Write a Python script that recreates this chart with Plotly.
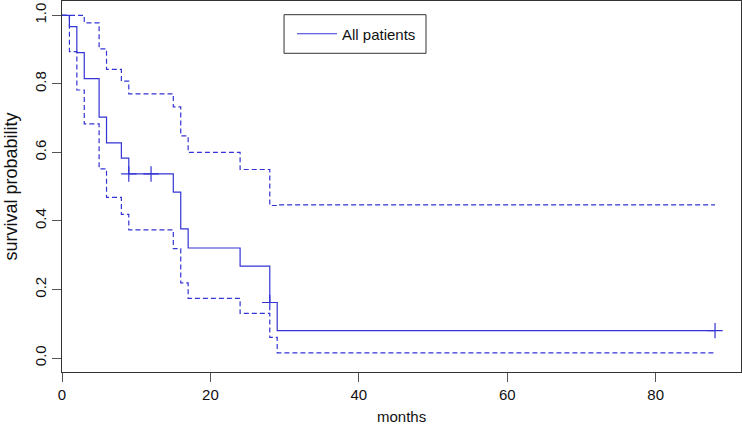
import plotly.graph_objects as go

# Kaplan-Meier estimate
step_times = [0, 1, 2, 3, 5, 6, 8, 9, 15, 16, 17, 24, 28, 29]
surv = [1.0, 0.967, 0.891, 0.815, 0.703, 0.628, 0.583, 0.537, 0.484, 0.377, 0.321, 0.268, 0.162, 0.080]
upper_ci = [1.0, 1.0, 1.0, 0.978, 0.902, 0.842, 0.808, 0.771, 0.733, 0.648, 0.600, 0.550, 0.445, 0.447]
lower_ci = [1.0, 0.894, 0.782, 0.683, 0.552, 0.469, 0.419, 0.374, 0.319, 0.219, 0.174, 0.130, 0.060, 0.015]
end_time = 88
censor_times = [9, 12, 28, 88]

x_ticks = [0, 20, 40, 60, 80]
y_ticks = [0.0, 0.2, 0.4, 0.6, 0.8, 1.0]
y_tick_labels = ["0.0", "0.2", "0.4", "0.6", "0.8", "1.0"]
x_title = "months"
y_title = "survival probability"

BLUE = "rgb(52,52,212)"
FONT = "Liberation Sans, Arial, sans-serif"


def surv_at(t):
    val = surv[0]
    for st, s in zip(step_times, surv):
        if st <= t:
            val = s
    return val


xs = step_times + [end_time]

fig = go.Figure()
fig.add_trace(go.Scatter(x=xs, y=upper_ci + [upper_ci[-1]], mode="lines", line_shape="hv",
                         line=dict(color=BLUE, width=1.2, dash="5px,3px"), showlegend=False,
                         hoverinfo="skip"))
fig.add_trace(go.Scatter(x=xs, y=lower_ci + [lower_ci[-1]], mode="lines", line_shape="hv",
                         line=dict(color=BLUE, width=1.2, dash="5px,3px"), showlegend=False,
                         hoverinfo="skip"))
fig.add_trace(go.Scatter(x=xs, y=surv + [surv[-1]], mode="lines", line_shape="hv",
                         line=dict(color=BLUE, width=1.2), name="All patients"))
fig.add_trace(go.Scatter(x=censor_times, y=[surv_at(t) for t in censor_times], mode="markers",
                         marker=dict(symbol="cross-thin", size=11,
                                     line=dict(color=BLUE, width=1.2)),
                         showlegend=False))

fig.update_layout(
    width=742, height=426,
    margin=dict(l=62, r=1, t=1, b=54),
    paper_bgcolor="white", plot_bgcolor="white",
    font=dict(family=FONT, size=15, color="#111"),
    legend=dict(x=0.3387, y=0.911, xanchor="left", yanchor="middle",
                borderwidth=0, bgcolor="rgba(0,0,0,0)",
                itemwidth=40, font=dict(family=FONT, size=15, color="#111")),
    shapes=[dict(type="rect", xref="paper", yref="paper",
                 x0=0.3270, x1=0.5361, y0=0.859, y1=0.9631,
                 line=dict(color="#333", width=1), fillcolor="rgba(0,0,0,0)", layer="above")],
    annotations=[dict(text=x_title, xref="paper", yref="paper", x=0.5, y=-0.1445,
                      xanchor="center", yanchor="bottom", showarrow=False, borderpad=0,
                      font=dict(family=FONT, size=15, color="#111"))],
    xaxis=dict(range=[0, 91.5], tickvals=x_ticks, ticks="outside", ticklen=9,
               tickcolor="#555", showline=True, linecolor="#333", mirror=True,
               showgrid=False, zeroline=False, automargin=False),
    yaxis=dict(range=[-0.0408, 1.0417], tickvals=y_ticks, ticktext=y_tick_labels,
               tickangle=-90, ticks="outside", ticklen=9, tickcolor="#555",
               showline=True, linecolor="#333", mirror=True,
               showgrid=False, zeroline=False, automargin=False,
               title=dict(text=y_title, standoff=9)),
)

fig.write_html("out.html", config={"displayModeBar": False},
               post_script="document.body.style.margin='0';document.body.style.overflow='hidden';")
